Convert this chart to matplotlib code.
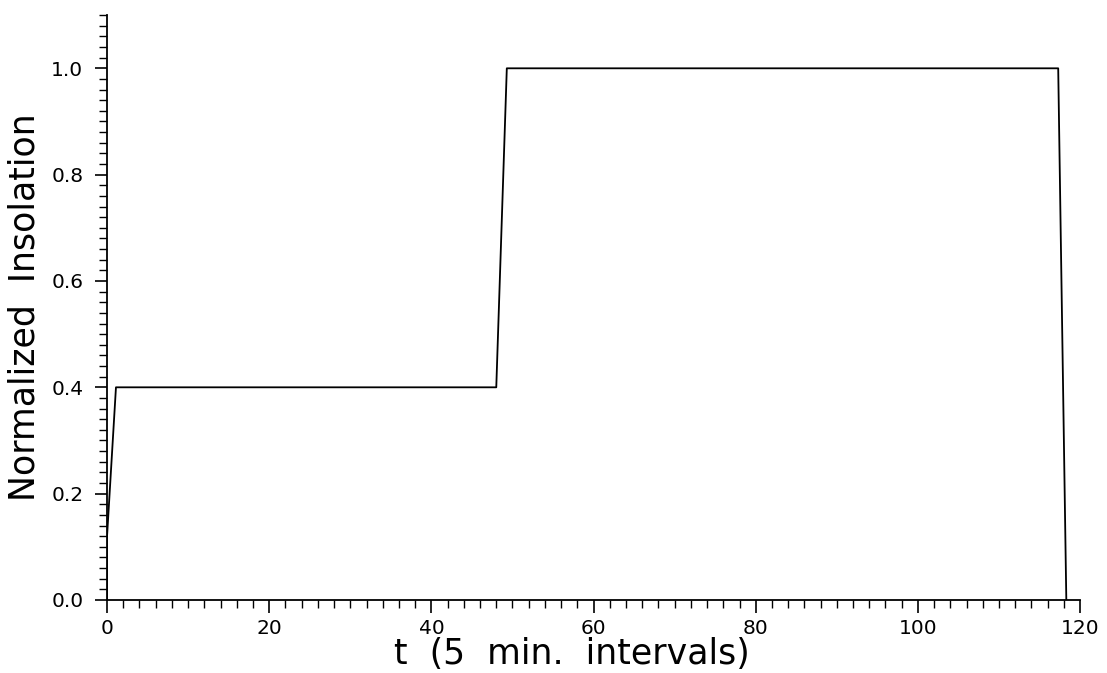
import numpy as np
import matplotlib
matplotlib.use('Agg')
import matplotlib.pyplot as plt
from matplotlib.ticker import MultipleLocator

# 데이터
t_points = [0, 0, 1.1, 48, 49.3, 117.3, 118.3]
insolation = [0.0, 0.12, 0.4, 0.4, 1.0, 1.0, 0.0]

x_ticks = [0, 20, 40, 60, 80, 100, 120]
y_ticks = [0.0, 0.2, 0.4, 0.6, 0.8, 1.0]

fig = plt.figure(figsize=(11.07, 6.73), dpi=100)
ax = fig.add_axes([0.0967, 0.1085, 0.879, 0.869])

ax.plot(t_points, insolation, color='black', linewidth=1.3)

ax.set_xlim(0, 120)
ax.set_ylim(0, 1.1)
ax.set_xticks(x_ticks)
ax.set_yticks(y_ticks)
ax.set_yticklabels(['%.1f' % v for v in y_ticks])
ax.xaxis.set_minor_locator(MultipleLocator(2))
ax.yaxis.set_minor_locator(MultipleLocator(0.02))

# 위/오른쪽 축 없음
ax.spines['top'].set_visible(False)
ax.spines['right'].set_visible(False)
for s in ('left', 'bottom'):
    ax.spines[s].set_linewidth(1.3)

ax.tick_params(which='major', direction='out', length=9, width=1.2,
               labelsize=14.5, pad=8)
ax.tick_params(axis='x', which='major', pad=5)
ax.tick_params(which='minor', direction='out', length=6, width=1.0)

ax.set_xlabel('t  (5  min.  intervals)', fontsize=25)
ax.set_ylabel('Normalized  Insolation', fontsize=25)
ax.xaxis.set_label_coords(0.478, -0.092)
ax.xaxis.label.set_verticalalignment('center')
ax.yaxis.set_label_coords(-0.085, 0.5)
ax.yaxis.label.set_verticalalignment('center')

fig.savefig('out.png', dpi=100)
